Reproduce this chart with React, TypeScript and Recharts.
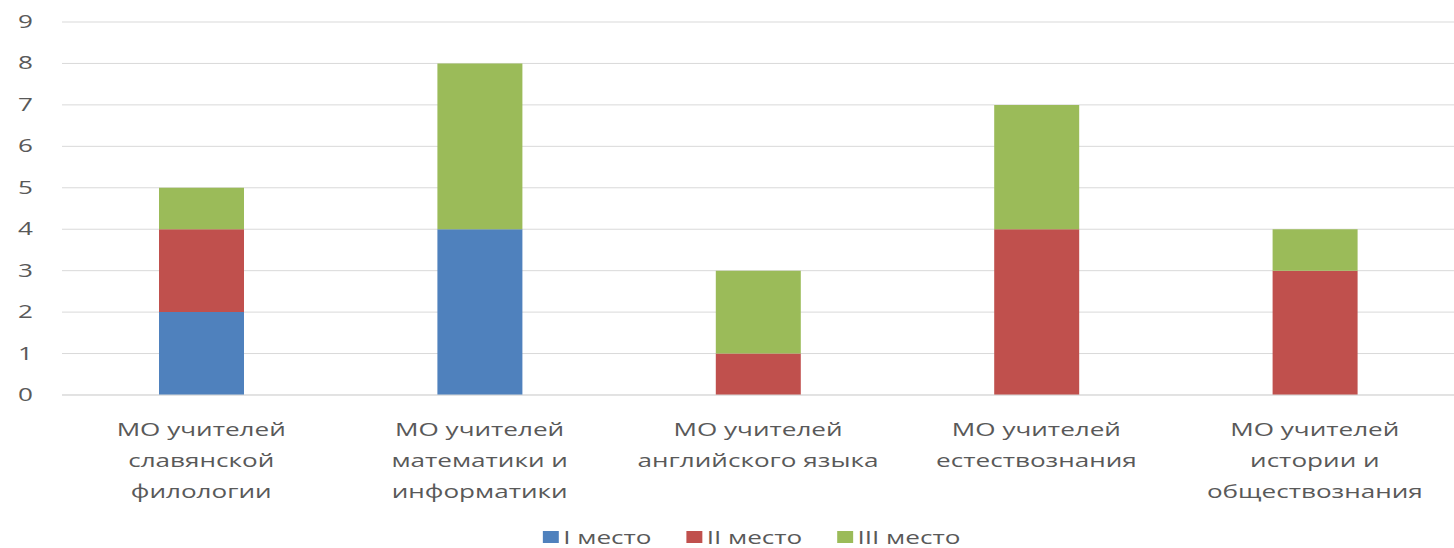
import { Bar, BarChart, CartesianGrid, Legend, XAxis, YAxis } from "recharts";

// categories (line breaks = label wrapping in the original)
const categories = [
  "МО учителей\nславянской\nфилологии",
  "МО учителей\nматематики и\nинформатики",
  "МО учителей\nанглийского языка",
  "МО учителей\nестествознания",
  "МО учителей\nистории и\nобществознания",
];

const firstPlace = [2, 4, 0, 0, 0];
const secondPlace = [2, 0, 1, 4, 3];
const thirdPlace = [1, 4, 2, 3, 1];

const yTicks = [0, 1, 2, 3, 4, 5, 6, 7, 8, 9];

const SERIES = [
  { key: "first", name: "I место", color: "#4f81bd" },
  { key: "second", name: "II место", color: "#c0504d" },
  { key: "third", name: "III место", color: "#9bbb59" },
];

const data = categories.map((c, i) => ({
  name: c,
  first: firstPlace[i],
  second: secondPlace[i],
  third: thirdPlace[i],
}));

const FONT = "'Open Sans', sans-serif";
const TEXT = "#595959";
const STRETCH = 1.45; // source image is stretched horizontally

function CategoryTick({ x, y, payload }: any) {
  const lines = String(payload.value).split("\n");
  return (
    <g transform={`translate(${x},${y}) scale(${STRETCH},1)`}>
      <text textAnchor="middle" fill={TEXT} fontSize={18} fontFamily={FONT}>
        {lines.map((l, i) => (
          <tspan key={i} x={0} dy={i === 0 ? 39 : 31}>
            {l}
          </tspan>
        ))}
      </text>
    </g>
  );
}

function ValueTick({ x, y, payload }: any) {
  return (
    <g transform={`translate(${x},${y}) scale(${STRETCH},1)`}>
      <text textAnchor="end" dy={6} fill={TEXT} fontSize={18} fontFamily={FONT}>
        {payload.value}
      </text>
    </g>
  );
}

function LegendBox({ payload }: any) {
  return (
    <div
      style={{
        display: "flex",
        justifyContent: "center",
        alignItems: "center",
        height: 22,
        paddingLeft: 34,
        transform: `scaleX(${STRETCH})`,
        fontFamily: FONT,
        fontSize: 18,
        color: TEXT,
      }}
    >
      {(payload || []).map((p: any) => (
        <div key={p.value} style={{ display: "flex", alignItems: "center", margin: "0 12px" }}>
          <span style={{ width: 11, height: 12, background: p.color, marginRight: 3, display: "inline-block" }} />
          <span>{p.value}</span>
        </div>
      ))}
    </div>
  );
}

export default function App() {
  return (
    <div style={{ position: "absolute", left: 0, top: 0, width: 1454, height: 548, background: "#fff" }}>
      <BarChart width={1454} height={548} data={data} margin={{ top: 22, right: 0, bottom: 0, left: 0 }} barSize={85}>
        <CartesianGrid vertical={false} stroke="#d9d9d9" />
        <XAxis
          dataKey="name"
          interval={0}
          height={131}
          tick={<CategoryTick />}
          tickLine={false}
          tickSize={0}
          axisLine={{ stroke: "#d9d9d9" }}
        />
        <YAxis
          width={62}
          domain={[0, 9]}
          ticks={yTicks}
          tick={<ValueTick />}
          tickLine={false}
          tickSize={0}
          tickMargin={29}
          axisLine={false}
        />
        {SERIES.map((s) => (
          <Bar key={s.key} dataKey={s.key} name={s.name} stackId="a" fill={s.color} isAnimationActive={false} />
        ))}
        <Legend verticalAlign="bottom" height={22} content={<LegendBox />} />
      </BarChart>
    </div>
  );
}
